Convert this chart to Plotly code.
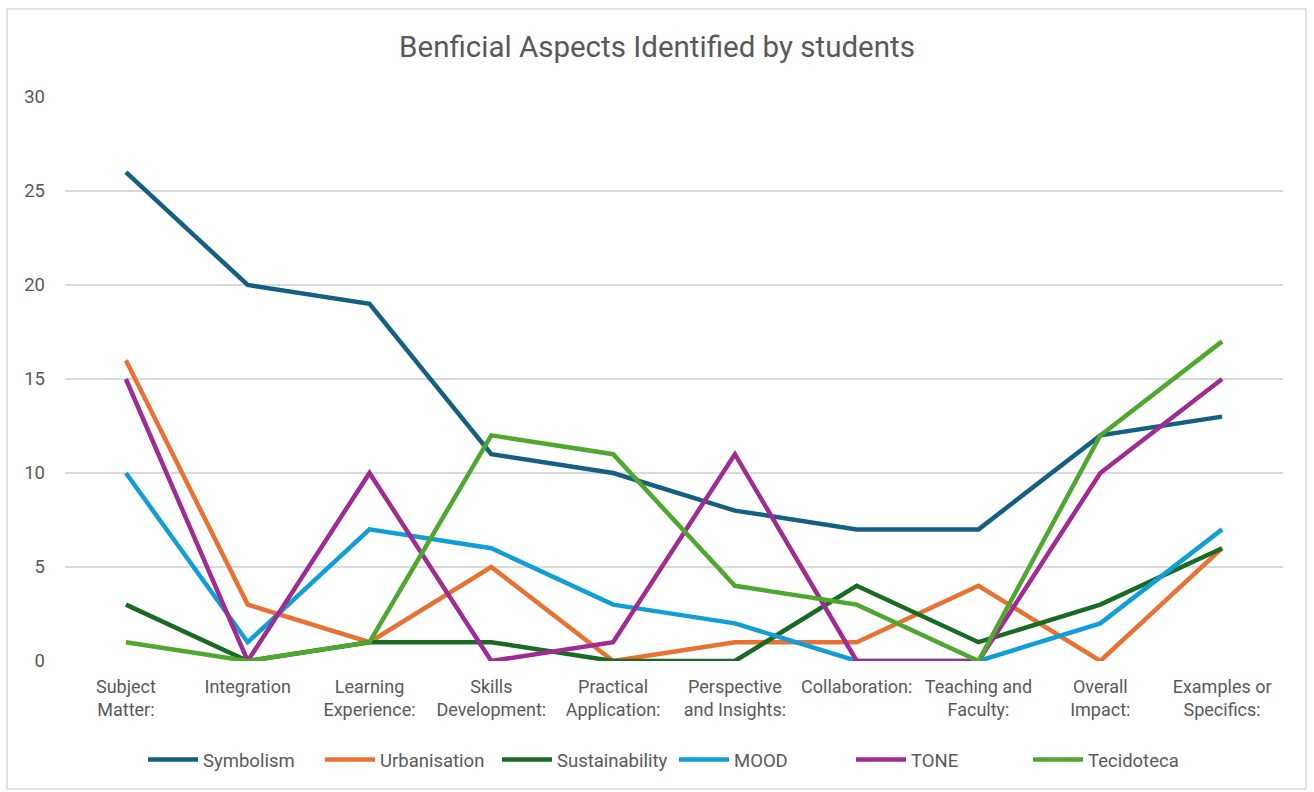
import plotly.graph_objects as go

categories = [
    "Subject<br>Matter:", "Integration", "Learning<br>Experience:", "Skills<br>Development:",
    "Practical<br>Application:", "Perspective<br>and Insights:", "Collaboration:",
    "Teaching and<br>Faculty:", "Overall<br>Impact:", "Examples or<br>Specifics:",
]

symbolism = [26, 20, 19, 11, 10, 8, 7, 7, 12, 13]
urbanisation = [16, 3, 1, 5, 0, 1, 1, 4, 0, 6]
sustainability = [3, 0, 1, 1, 0, 0, 4, 1, 3, 6]
mood = [10, 1, 7, 6, 3, 2, 0, 0, 2, 7]
tone = [15, 0, 10, 0, 1, 11, 0, 0, 10, 15]
tecidoteca = [1, 0, 1, 12, 11, 4, 3, 0, 12, 17]

series = [
    ("Symbolism", symbolism, "#156082"),
    ("Urbanisation", urbanisation, "#E97132"),
    ("Sustainability", sustainability, "#196B24"),
    ("MOOD", mood, "#0F9ED5"),
    ("TONE", tone, "#A02B93"),
    ("Tecidoteca", tecidoteca, "#4EA72E"),
]

fig = go.Figure()
for name, vals, color in series:
    fig.add_trace(go.Scatter(
        x=categories, y=vals, name=name, mode="lines",
        line=dict(color=color, width=4.5),
    ))

W, H = 1314, 792
ml, mr, mt, mb = 65, 31, 97, 131
pw, ph = W - ml - mr, H - mt - mb

def px_x(p):
    return (p - ml) / pw

def px_y(p):
    return (H - mb - p) / ph

fig.update_layout(
    width=W, height=H,
    margin=dict(l=ml, r=mr, t=mt, b=mb),
    paper_bgcolor="white", plot_bgcolor="white",
    font=dict(family="Roboto, Arial, sans-serif", color="#595959", size=18),
    title=dict(
        text="Benficial Aspects Identified by students",
        x=0.5, xanchor="center", y=1 - 47 / H, yanchor="middle",
        font=dict(size=29.5, color="#595959"),
    ),
    xaxis=dict(
        showgrid=False, showline=False, zeroline=False,
        tickfont=dict(size=18, color="#595959"),
        range=[-0.5, 9.5], ticklabelstandoff=13,
    ),
    yaxis=dict(
        range=[0, 30], dtick=5, showgrid=True, gridcolor="#D9D9D9", gridwidth=1.5,
        zeroline=False, showline=False,
        tickfont=dict(size=18.5, color="#595959"),
        ticklabelstandoff=19,
    ),
    legend=dict(
        orientation="h", x=0.5, xanchor="center", y=px_y(760), yanchor="middle",
        font=dict(size=18.5, color="#595959"), itemwidth=50,
        entrywidth=112, entrywidthmode="pixels",
        tracegroupgap=0,
    ),
    shapes=[dict(
        type="rect", xref="paper", yref="paper",
        x0=px_x(7), x1=px_x(1306), y0=px_y(789), y1=px_y(9),
        line=dict(color="#D9D9D9", width=1.5), fillcolor="rgba(0,0,0,0)", layer="below",
    )],
)

fig.write_html("out.html")
